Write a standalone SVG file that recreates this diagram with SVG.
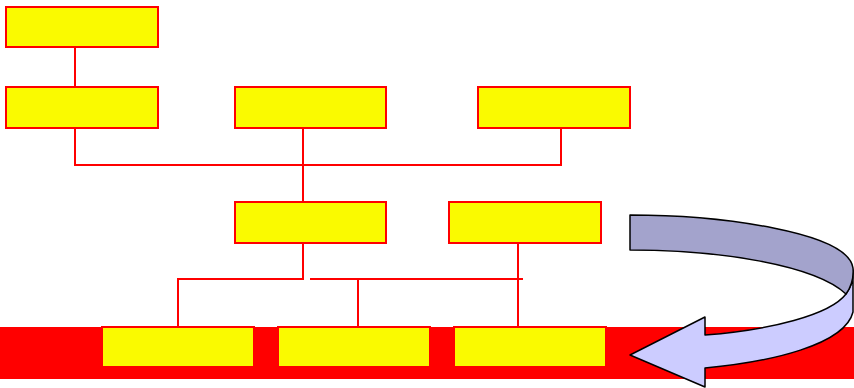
<svg xmlns="http://www.w3.org/2000/svg" width="854" height="388" viewBox="0 0 854 388">
<style>
.box{fill:#FAFA00;stroke:#FF0000;stroke-width:2}
.ln{fill:none;stroke:#FF0000;stroke-width:2}
.arr{stroke:#000;stroke-width:1.5;stroke-linejoin:round}
</style>
<rect x="0" y="327" width="854" height="52" fill="#FF0000"/>
<g id="connectors">
<line class="ln" x1="75" y1="48" x2="75" y2="87"/>
<polyline class="ln" points="75,128 75,165 561,165 561,128"/>
<line class="ln" x1="303" y1="128" x2="303" y2="202"/>
<polyline class="ln" points="303,243 303,279 178,279 178,327"/>
<line class="ln" x1="310" y1="279" x2="523" y2="279"/>
<line class="ln" x1="358" y1="279" x2="358" y2="327"/>
<line class="ln" x1="518" y1="243" x2="518" y2="327"/>
</g>
<g id="n1"><rect class="box" x="6" y="7" width="152" height="40"/></g>
<g id="n2"><rect class="box" x="6" y="87" width="152" height="41"/></g>
<g id="n3"><rect class="box" x="235" y="87" width="151" height="41"/></g>
<g id="n4"><rect class="box" x="478" y="87" width="152" height="41"/></g>
<g id="n5"><rect class="box" x="235" y="202" width="151" height="41"/></g>
<g id="n6"><rect class="box" x="449" y="202" width="152" height="41"/></g>
<g id="n7"><rect class="box" x="102" y="327" width="152" height="40"/></g>
<g id="n8"><rect class="box" x="278" y="327" width="152" height="40"/></g>
<g id="n9"><rect class="box" x="454" y="327" width="152" height="40"/></g>
<g id="arrow">
<path class="arr" fill="#CCCCFF" d="M853,270 L853,312 C845,345 770,362 705,368 L705,387 L630,355 L705,317 L705,335 C770,330 830,315 846,294 C851,287 854,279 853,270 Z"/>
<path class="arr" fill="#A3A3CC" d="M630,215 C720,215 848,232 853,268 C854,280 851,287 846,294 C815,265 720,250 630,250 Z"/>
</g>
</svg>
